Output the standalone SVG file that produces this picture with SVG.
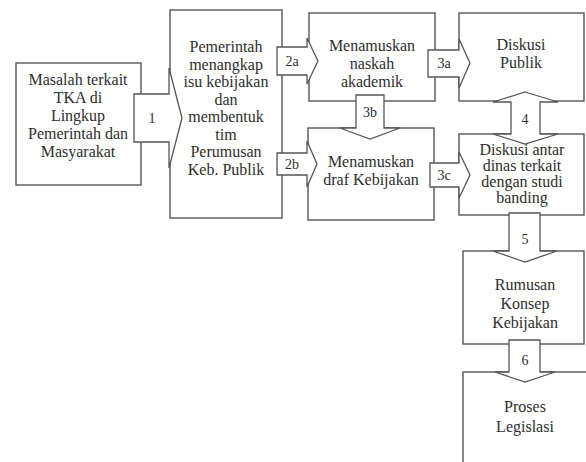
<svg xmlns="http://www.w3.org/2000/svg" width="586" height="462" viewBox="0 0 586 462" font-family="'Liberation Serif', 'Times New Roman', serif">
<style>
.box{fill:#fff;stroke:#555;stroke-width:1.4}
.arr{fill:#fff;stroke:#555;stroke-width:1.3;stroke-linejoin:miter}
.t{font-family:'Liberation Serif','Times New Roman',serif;font-size:16px;fill:#2e2e2e;text-anchor:middle}
.l{font-family:'Liberation Serif','Times New Roman',serif;font-size:14px;fill:#2e2e2e;text-anchor:middle}
</style>
<rect width="586" height="462" fill="#fff"/>
<g id="nodeA"><rect class="box" x="16" y="63" width="125" height="122"/>
<text class="t"><tspan x="78" y="85">Masalah terkait</tspan><tspan x="78" y="103">TKA di</tspan><tspan x="78" y="121">Lingkup</tspan><tspan x="78" y="139">Pemerintah dan</tspan><tspan x="78" y="157">Masyarakat</tspan></text></g>
<g id="nodeB"><rect class="box" x="170" y="10" width="112" height="208"/>
<text class="t"><tspan x="226" y="52">Pemerintah</tspan><tspan x="226" y="69.5">menangkap</tspan><tspan x="226" y="87">isu kebijakan</tspan><tspan x="226" y="104.5">dan</tspan><tspan x="226" y="122">membentuk</tspan><tspan x="226" y="139.5">tim</tspan><tspan x="226" y="157">Perumusan</tspan><tspan x="226" y="174.5">Keb. Publik</tspan></text></g>
<g id="nodeC"><rect class="box" x="309" y="13" width="126" height="88"/>
<text class="t"><tspan x="372" y="51">Menamuskan</tspan><tspan x="372" y="69">naskah</tspan><tspan x="372" y="87">akademik</tspan></text></g>
<g id="nodeD"><rect class="box" x="308" y="128" width="126" height="92"/>
<text class="t"><tspan x="371" y="167">Menamuskan</tspan><tspan x="371" y="185">draf Kebijakan</tspan></text></g>
<g id="nodeE"><rect class="box" x="459" y="13" width="125" height="88"/>
<text class="t"><tspan x="521" y="50">Diskusi</tspan><tspan x="521" y="68">Publik</tspan></text></g>
<g id="nodeF"><rect class="box" x="459" y="134" width="125" height="81"/>
<text class="t"><tspan x="522" y="155">Diskusi antar</tspan><tspan x="522" y="171">dinas terkait</tspan><tspan x="522" y="187">dengan studi</tspan><tspan x="522" y="203">banding</tspan></text></g>
<g id="nodeG"><rect class="box" x="463" y="251" width="121" height="93"/>
<text class="t"><tspan x="525" y="290">Rumusan</tspan><tspan x="525" y="309">Konsep</tspan><tspan x="525" y="328">Kebijakan</tspan></text></g>
<g id="nodeH"><rect class="box" x="463" y="372" width="130" height="110"/>
<text class="t"><tspan x="525" y="412">Proses</tspan><tspan x="525" y="432">Legislasi</tspan></text></g>
<g id="connectors">
<path class="arr" d="M134,94 H169 V68 L182,118 L169,168 V142 H134 Z"/><text class="l" x="152" y="123">1</text>
<path class="arr" d="M277,47 H307 V38 L318,61 L307,84 V75 H277 Z"/><text class="l" x="292" y="66">2a</text>
<path class="arr" d="M277,153 H307 V141 L317,164 L307,187 V175 H277 Z"/><text class="l" x="292" y="169">2b</text>
<path class="arr" d="M428,50 H459 V39 L470,63 L459,88 V77 H428 Z"/><text class="l" x="444" y="68">3a</text>
<path class="arr" d="M430,163 H459 V152 L470,175 L459,198 V187 H430 Z"/><text class="l" x="444" y="180">3c</text>
<path class="arr" d="M356,95 V128 H340 L370,139 L400,128 H384 V95 Z"/><text class="l" x="370" y="117">3b</text>
<path class="arr" d="M525,92 L558,102 H540 V134 H558 L525,144 L493,134 H511 V102 H493 Z"/><text class="l" x="525" y="124">4</text>
<path class="arr" d="M509,213 V251 H493 L525,262 L557,251 H540 V213 Z"/><text class="l" x="525" y="244">5</text>
<path class="arr" d="M509,340 V372 H495 L525,382 L555,372 H540 V340 Z"/><text class="l" x="525" y="365">6</text>
</g>
</svg>
